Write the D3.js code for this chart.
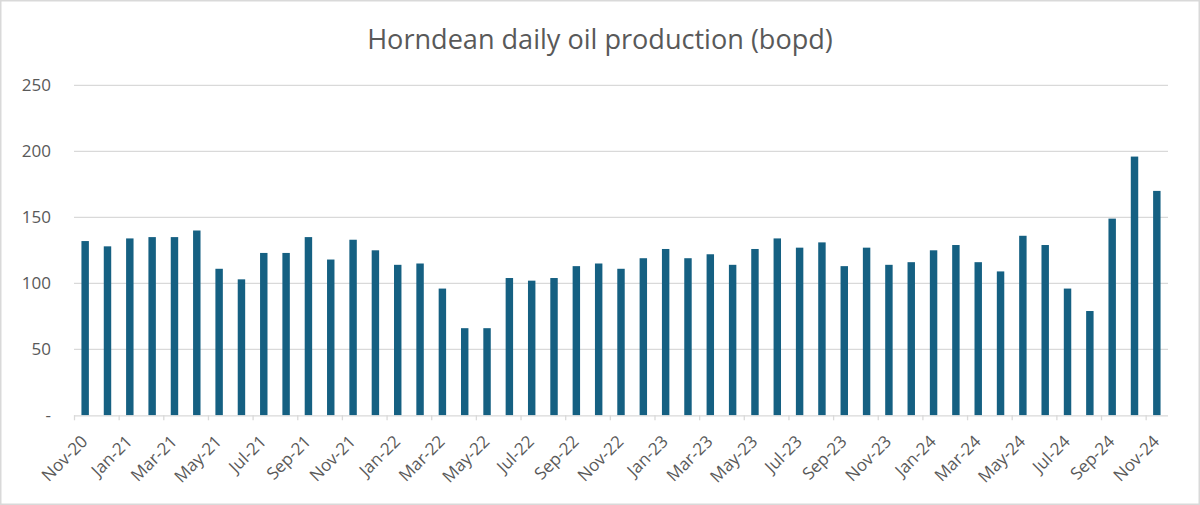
<!DOCTYPE html>
<html>
<head>
<meta charset="utf-8">
<script src="https://cdn.jsdelivr.net/npm/d3@7"></script>
<style>
  html, body { margin: 0; padding: 0; background: #fff; }
  svg { display: block; }
  text { font-family: "Open Sans", "Noto Sans", sans-serif; fill: #595959; }
</style>
</head>
<body>
<svg id="chart" width="1200" height="505"></svg>
<script>
const title = "Horndean daily oil production (bopd)";

const months = [
  "Nov-20","Dec-20","Jan-21","Feb-21","Mar-21","Apr-21","May-21","Jun-21","Jul-21","Aug-21","Sep-21","Oct-21",
  "Nov-21","Dec-21","Jan-22","Feb-22","Mar-22","Apr-22","May-22","Jun-22","Jul-22","Aug-22","Sep-22","Oct-22",
  "Nov-22","Dec-22","Jan-23","Feb-23","Mar-23","Apr-23","May-23","Jun-23","Jul-23","Aug-23","Sep-23","Oct-23",
  "Nov-23","Dec-23","Jan-24","Feb-24","Mar-24","Apr-24","May-24","Jun-24","Jul-24","Aug-24","Sep-24","Oct-24",
  "Nov-24"
];

const production = [
  132, 128, 134, 135, 135, 140, 111, 103, 123, 123, 135, 118,
  133, 125, 114, 115, 96, 66, 66, 104, 102, 104, 113, 115,
  111, 119, 126, 119, 122, 114, 126, 134, 127, 131, 113, 127,
  114, 116, 125, 129, 116, 109, 136, 129, 96, 79, 149, 196,
  170
];

const xTickLabels = ["Nov-20","Jan-21","Mar-21","May-21","Jul-21","Sep-21","Nov-21","Jan-22","Mar-22","May-22",
  "Jul-22","Sep-22","Nov-22","Jan-23","Mar-23","May-23","Jul-23","Sep-23","Nov-23","Jan-24","Mar-24","May-24",
  "Jul-24","Sep-24","Nov-24"];

const yTicks = [0, 50, 100, 150, 200, 250];

const W = 1200, H = 505;
const plot = { left: 74, right: 1168, top: 85.3, bottom: 415.3 };
const textColor = "#595959", gridColor = "#D9D9D9", barColor = "#156082";

const svg = d3.select("#chart");

// outer border
svg.append("rect").attr("x", 0.75).attr("y", 0.75).attr("width", W - 1.5).attr("height", H - 1.5)
  .attr("fill", "#fff").attr("stroke", gridColor).attr("stroke-width", 1.5);

const x = d3.scaleBand().domain(months).range([plot.left, plot.right]).paddingInner(0).paddingOuter(0);
const bw = x.bandwidth();
const xEdge = d3.scalePoint().domain(months).range([plot.left, plot.left + bw * (months.length - 1)]);
const y = d3.scaleLinear().domain([0, 250]).range([plot.bottom, plot.top]);

// gridlines
svg.append("g").selectAll("line").data(yTicks.filter(d => d > 0)).join("line")
  .attr("x1", plot.left).attr("x2", plot.right)
  .attr("y1", d => y(d)).attr("y2", d => y(d))
  .attr("stroke", gridColor).attr("stroke-width", 1.3);

// y axis labels
const yAxis = d3.axisLeft(y).tickValues(yTicks).tickSize(0).tickPadding(0)
  .tickFormat(d => d === 0 ? "-" : d3.format("d")(d));
const gy = svg.append("g").attr("transform", `translate(${plot.left - 23},0)`).call(yAxis);
gy.select(".domain").remove();
gy.selectAll("text").attr("font-size", 17).attr("fill", textColor)
  .attr("font-family", '"Open Sans", sans-serif');

// bars
const barW = bw / 3;
svg.append("g").selectAll("rect").data(production).join("rect")
  .attr("x", (d, i) => x(months[i]) + (bw - barW) / 2)
  .attr("width", barW)
  .attr("y", d => y(d))
  .attr("height", d => y(0) - y(d))
  .attr("fill", barColor);

// x axis
const xAxis = d3.axisBottom(xEdge).tickValues(xTickLabels).tickSize(5).tickSizeOuter(0).tickFormat(d => d);
const gx = svg.append("g").attr("transform", `translate(0,${plot.bottom})`).call(xAxis);
gx.select(".domain").attr("d", `M${plot.left},0.5H${plot.right}`).attr("stroke", gridColor).attr("stroke-width", 1.3);
gx.selectAll(".tick line").attr("stroke", gridColor).attr("stroke-width", 1.3);
gx.selectAll(".tick text")
  .attr("font-size", 17).attr("fill", textColor)
  .attr("font-family", '"Open Sans", sans-serif')
  .attr("text-anchor", "end")
  .attr("y", 0).attr("dy", "0.35em")
  .attr("transform", "translate(10,23) rotate(-45)");

// title
const t = svg.append("text").attr("x", 600).attr("y", 49)
  .attr("text-anchor", "middle").attr("font-size", 26).attr("fill", textColor)
  .text(title);
const tl = t.node().getComputedTextLength();
t.attr("font-size", 26 * 466 / tl);
</script>
</body>
</html>
